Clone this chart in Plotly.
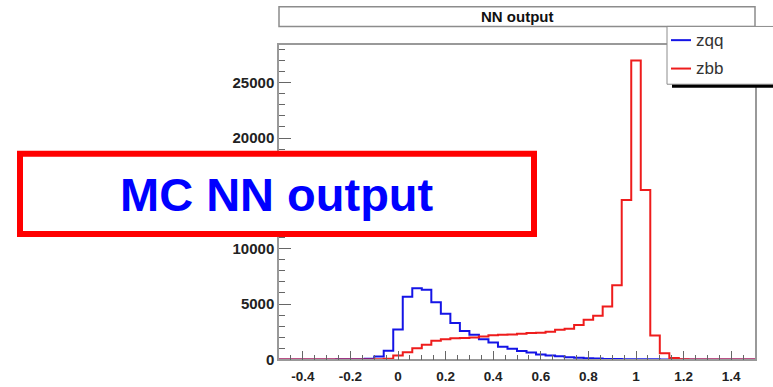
import numpy as np
import plotly.graph_objects as go

# Histogram binning: 50 bins from -0.5 to 1.5
BIN_LOW = -0.5
BIN_HIGH = 1.5
N_BINS = 50

# Bin contents for the two samples
zqq_counts = [0, 0, 0, 0, 0, 0, 5, 10, 25, 60,
              265, 790, 2700, 5650, 6440, 6290, 5170, 4120, 3290, 2560,
              2230, 1820, 1530, 1150, 970, 770, 620, 440, 350, 290,
              200, 160, 100, 80, 45, 30, 20, 15, 10, 6,
              3, 0, 0, 0, 0, 0, 0, 0, 0, 0]
zbb_counts = [0, 0, 0, 0, 0, 0, 0, 0, 0, 0,
              15, 60, 350, 650, 1000, 1320, 1680, 1820, 1910, 1930,
              1970, 2060, 2180, 2230, 2260, 2320, 2380, 2420, 2500, 2680,
              2760, 3100, 3580, 3950, 4780, 6700, 14400, 27000, 15300, 2150,
              550, 120, 20, 0, 0, 0, 0, 0, 0, 0]

series_names = ["zqq", "zbb"]
series_counts = [zqq_counts, zbb_counts]
series_colors = ["#1414e6", "#ee1c1c"]

x_tick_vals = [-0.4, -0.2, 0, 0.2, 0.4, 0.6, 0.8, 1, 1.2, 1.4]
x_tick_text = ["-0.4", "-0.2", "0", "0.2", "0.4", "0.6", "0.8", "1", "1.2", "1.4"]
# the 15000 label sits under the label box, so it is left blank
y_tick_vals = [0, 5000, 10000, 15000, 20000, 25000]
y_tick_text = ["0", "5000", "10000", "", "20000", "25000"]

W, H = 773, 387
edges = np.linspace(BIN_LOW, BIN_HIGH, N_BINS + 1)


def px(x):
    return x / W


def py(y):
    return 1 - y / H


fig = go.Figure()
for name, counts, color in zip(series_names, series_counts, series_colors):
    yy = list(counts) + [counts[-1]]
    fig.add_trace(go.Scatter(
        x=edges, y=yy, mode="lines", name=name,
        line=dict(color=color, width=2, shape="hv"),
        showlegend=False, hoverinfo="skip",
    ))

tick_font = dict(family="Liberation Sans, Arial, sans-serif", size=13.5,
                 color="#222222", weight="bold")

fig.update_layout(
    width=W, height=H,
    margin=dict(l=0, r=0, t=0, b=0),
    paper_bgcolor="white", plot_bgcolor="white",
    xaxis=dict(
        domain=[px(279), px(755)], range=[BIN_LOW, BIN_HIGH],
        showgrid=False, zeroline=False,
        showline=True, mirror=True, linecolor="#999999", linewidth=1.5,
        tickmode="array", tickvals=x_tick_vals, ticktext=x_tick_text,
        ticks="inside", ticklen=9, tickwidth=1, tickcolor="#666666",
        minor=dict(ticks="inside", ticklen=5, dtick=0.05, tickcolor="#666666"),
        tickfont=tick_font, ticklabelstandoff=4,
    ),
    yaxis=dict(
        domain=[py(367), py(46)], range=[0, 28400],
        showgrid=False, zeroline=False,
        showline=True, mirror=True, linecolor="#999999", linewidth=1.5,
        tickmode="array", tickvals=y_tick_vals, ticktext=y_tick_text,
        ticks="inside", ticklen=12, tickwidth=1, tickcolor="#666666",
        minor=dict(ticks="inside", ticklen=6, dtick=1000, tickcolor="#666666"),
        tickfont=dict(tick_font, size=15),
    ),
)

shapes = []
annotations = []

# Title box
shapes.append(dict(type="rect", xref="paper", yref="paper",
                   x0=px(279), x1=px(755), y0=py(27), y1=py(7),
                   line=dict(color="#8c8c8c", width=1.5), fillcolor="white"))
annotations.append(dict(text="NN output", xref="paper", yref="paper",
                        x=px(517), y=py(17), showarrow=False,
                        xanchor="center", yanchor="middle",
                        font=dict(family="Liberation Sans, Arial, sans-serif",
                                  size=15, color="#111111", weight="bold")))

# Legend box with drop shadow
shapes.append(dict(type="rect", xref="paper", yref="paper",
                   x0=px(672), x1=px(790), y0=py(89.5), y1=py(85),
                   line=dict(width=0), fillcolor="black"))
shapes.append(dict(type="rect", xref="paper", yref="paper",
                   x0=px(667), x1=px(790), y0=py(86), y1=py(27),
                   line=dict(color="#8c8c8c", width=1), fillcolor="white"))
legend_rows = [41, 70]
for name, color, row in zip(series_names, series_colors, legend_rows):
    shapes.append(dict(type="line", xref="paper", yref="paper",
                       x0=px(671), x1=px(691), y0=py(row), y1=py(row),
                       line=dict(color=color, width=2)))
    annotations.append(dict(text=name, xref="paper", yref="paper",
                            x=px(694), y=py(row), showarrow=False,
                            xanchor="left", yanchor="middle",
                            font=dict(family="Liberation Sans, Arial, sans-serif",
                                      size=17, color="#333333")))

# Label box
shapes.append(dict(type="rect", xref="paper", yref="paper",
                   x0=px(20), x1=px(534), y0=py(239), y1=py(157),
                   line=dict(color="#ff0000", width=6), fillcolor="white"))
annotations.append(dict(text="MC NN output", xref="paper", yref="paper",
                        x=px(277), y=py(199), showarrow=False,
                        xanchor="center", yanchor="middle",
                        font=dict(family="Liberation Sans, Arial, sans-serif",
                                  size=47, color="#0000ff", weight="bold")))

fig.update_layout(shapes=shapes, annotations=annotations)
fig.write_html("out.html")
